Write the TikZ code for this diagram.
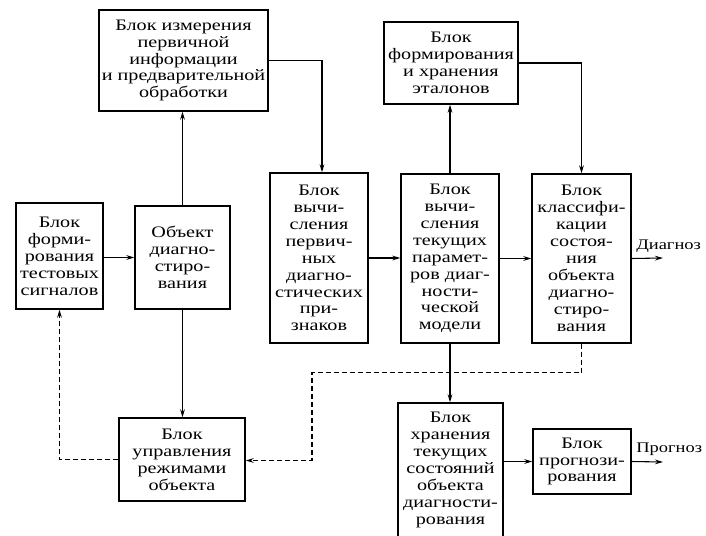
\documentclass[tikz,border=0pt]{standalone}
\usepackage{fontspec}
\setmainfont[FakeStretch=1.26]{Liberation Serif}
\usetikzlibrary{arrows.meta}
\begin{document}
\begin{tikzpicture}[x=0.75pt,y=-0.75pt,
  box/.style={draw,line width=1pt,align=center,inner sep=0pt,
    font=\fontsize{12}{12.7}\selectfont},
  conn/.style={line width=0.8pt,-{Stealth[length=6pt,width=3.5pt]}},
  dconn/.style={conn,dashed,dash pattern=on 3.75pt off 2.25pt},
  lbl/.style={font=\fontsize{11}{12.7}\selectfont,inner sep=0pt}]
\useasboundingbox (0,0) rectangle (706,535);
\clip (0,0) rectangle (706,535);
\node[box,minimum width=126.75pt,minimum height=75.75pt] (A) at (183.5,60.5)
  {Блок измерения\\первичной\\информации\\и предварительной\\обработки};
\node[box,minimum width=100.5pt,minimum height=61.5pt] (E) at (451,63)
  {Блок\\формирования\\и хранения\\эталонов};
\node[box,minimum width=65.25pt,minimum height=79.5pt] (B) at (59.5,256)
  {Блок\\форми-\\рования\\тестовых\\сигналов};
\node[box,minimum width=71.25pt,minimum height=77.25pt] (O) at (182.5,257.5)
  {Объект\\диагно-\\стиро-\\вания};
\node[box,minimum width=73.5pt,minimum height=127.5pt] (C) at (319,258)
  {Блок\\вычи-\\сления\\первич-\\ных\\диагно-\\стических\\при-\\знаков};
\node[box,minimum width=73.5pt,minimum height=126.75pt] (D) at (450,258.5)
  {Блок\\вычи-\\сления\\текущих\\парамет-\\ров диаг-\\ности-\\ческой\\модели};
\node[box,minimum width=74.25pt,minimum height=126.75pt] (F) at (581.5,258.5)
  {Блок\\классифи-\\кации\\состоя-\\ния\\объекта\\диагно-\\стиро-\\вания};
\node[box,minimum width=94.5pt,minimum height=62.25pt] (G) at (182,459.5)
  {Блок\\управления\\режимами\\объекта};
\node[box,minimum width=78.75pt,minimum height=100.5pt] (H) at (450.5,470)
  {Блок\\хранения\\текущих\\состояний\\объекта\\диагности-\\рования};
\node[box,minimum width=73.5pt,minimum height=48.75pt] (I) at (582,461.5)
  {Блок\\прогнози-\\рования};
\coordinate (dg) at (663,258);
\coordinate (pg) at (663,462);
\node[lbl,anchor=base west] (dgl) at (636,249) {Диагноз};
\node[lbl,anchor=base west] (pgl) at (636,452) {Прогноз};
% connectors
\draw[conn] (A.east) -| ([xshift=2.25pt]C.north);
\draw[conn] (O.north) -- (O.north |- A.south);
\draw[conn] (E.east) -| (F.north);
\draw[conn] (D.north) -- (D.north |- E.south);
\draw[conn] (B.east |- O.west) -- (O.west);
\draw[conn] (C.east) -- (C.east -| D.west);
\draw[conn] (D.east) -- (D.east -| F.west);
\draw[conn] (F.east) -- (dg);
\draw[conn] (O.south) -- (O.south |- G.north);
\draw[conn] (D.south) -- (D.south |- H.north);
\draw[conn] (H.east |- I.west) -- (I.west);
\draw[conn] (I.east) -- (pg);
\draw[dconn] (G.west) -| (B.south);
\draw[dconn] (F.south) -- ++(0,29) -| ([yshift=-0.75pt]G.east -| 312,0) coordinate (dm) -- ([yshift=-0.75pt]G.east);
\end{tikzpicture}
\end{document}
